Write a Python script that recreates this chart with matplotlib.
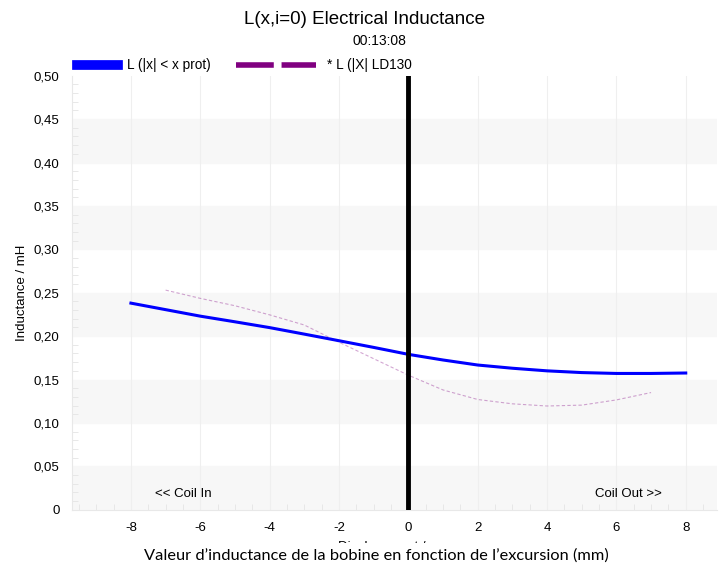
import numpy as np
import matplotlib.pyplot as plt
from matplotlib.lines import Line2D
from matplotlib.ticker import MultipleLocator, FuncFormatter

plt.rcParams['font.family'] = ['Liberation Sans', 'DejaVu Sans']
plt.rcParams['axes.unicode_minus'] = False

# données
x_prot = [-8, -7, -6, -5, -4, -3, -2, -1, 0, 1, 2, 3, 4, 5, 6, 7, 8]
L_prot = [0.238, 0.2305, 0.223, 0.2165, 0.2098, 0.2023, 0.1947, 0.187, 0.179, 0.1725,
          0.1667, 0.163, 0.160, 0.158, 0.157, 0.157, 0.1575]

x_ld = [-7, -6, -5, -4, -3, -2, -1, 0, 1, 2, 3, 4, 5, 6, 7]
L_ld = [0.253, 0.2435, 0.235, 0.2245, 0.2128, 0.193, 0.174, 0.155, 0.138, 0.127,
        0.122, 0.1195, 0.1205, 0.1265, 0.135]

lab_prot = "L (|x| < x prot)"
lab_ld = "* L (|X| LD130"

fig = plt.figure(figsize=(7.22, 5.68), dpi=100)
ax = fig.add_axes([0.0997, 0.1026, 0.8933, 0.7641])

# bandes grises alternées
for y0 in np.arange(0, 0.5, 0.1):
    ax.axhspan(y0, y0 + 0.05, color='#f7f7f7', zorder=0)
for xv in range(-8, 9, 2):
    ax.axvline(xv, color='#efefef', lw=0.8, zorder=0.5)

ax.plot(x_prot, L_prot, color='#0000ff', lw=2.2, zorder=3)
ax.plot(x_ld, L_ld, color='#800080', alpha=0.35, lw=0.8, dashes=(3, 2), zorder=2)
ax.plot([0, 0], [0, 0.5], color='black', lw=3.5, zorder=4)

ax.text(-6.5, 0.018, "<< Coil In", ha='center', va='center', fontsize=9.5)
ax.text(6.35, 0.018, "Coil Out >>", ha='center', va='center', fontsize=9.5)

ax.set_xlim(-9.7, 8.9)
ax.set_ylim(0, 0.5)
ax.xaxis.set_major_locator(MultipleLocator(2))
ax.xaxis.set_minor_locator(MultipleLocator(0.5))
ax.yaxis.set_major_locator(MultipleLocator(0.05))
ax.yaxis.set_minor_locator(MultipleLocator(0.01))
ax.yaxis.set_major_formatter(FuncFormatter(
    lambda v, p: '0' if abs(v) < 1e-9 else f'{v:.2f}'.replace('.', ',')))
ax.tick_params(which='major', length=0, labelsize=9.5, pad=9)
ax.tick_params(which='minor', direction='in', length=4, color='#e4e4e4')
for s in ['top', 'right']:
    ax.spines[s].set_visible(False)
for s in ['left', 'bottom']:
    ax.spines[s].set_color('#e8e8e8')

ax.set_xlabel("Displacement / mm", fontsize=9.5, labelpad=5)
ax.set_ylabel("Inductance / mH", fontsize=9.5, labelpad=4)

fig.text(0.5055, 0.966, "L(x,i=0) Electrical Inductance", ha='center', va='center', fontsize=13.5)
fig.text(0.525, 0.928, "00:13:08", ha='center', va='center', fontsize=10)

leg1 = ax.legend([Line2D([], [], color='#0000ff', lw=7)], [lab_prot],
                 loc='lower left', bbox_to_anchor=(0.0, 0.995), frameon=False,
                 handlelength=2.95, handletextpad=0.7, fontsize=9.8, borderaxespad=0)
ax.add_artist(leg1)
ax.legend([Line2D([], [], color='#800080', lw=4, dashes=(6.8, 1.4))], [lab_ld],
          loc='lower left', bbox_to_anchor=(0.246, 0.995), frameon=False,
          handlelength=5.9, handletextpad=0.75, fontsize=9.8, borderaxespad=0)

fig.text(0.521, 0.022, "Valeur d\u2019inductance de la bobine en fonction de l\u2019excursion (mm)",
         ha='center', va='center', fontsize=11.8, family=['Lato', 'DejaVu Sans'],
         bbox=dict(facecolor='white', edgecolor='none', pad=4))

fig.savefig('out.png', dpi=100)
